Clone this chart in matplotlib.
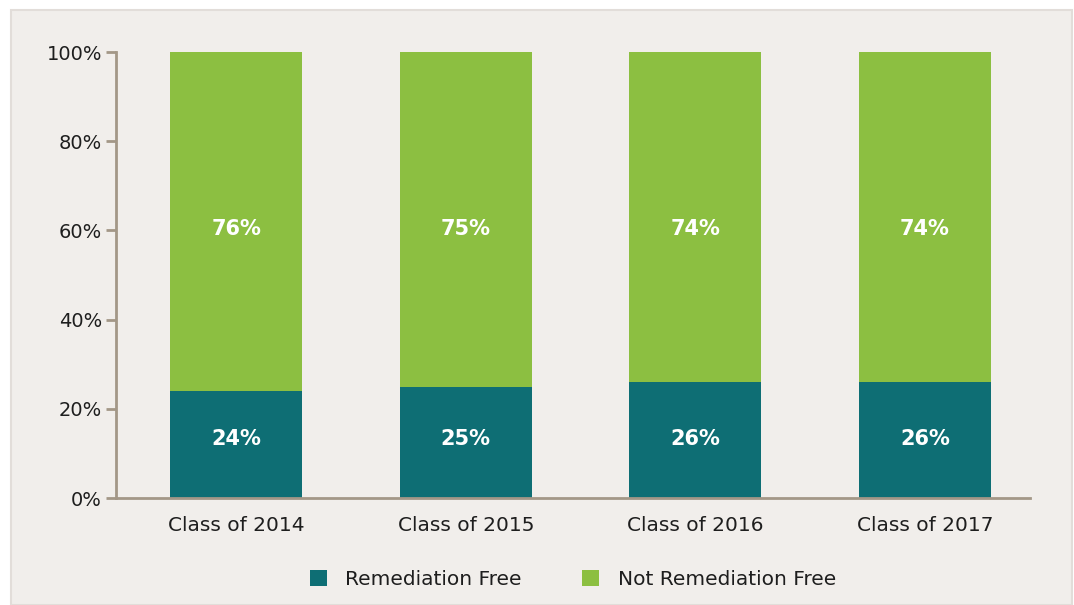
import matplotlib.pyplot as plt
import matplotlib.patches as patches
import numpy as np

classes = ["Class of 2014", "Class of 2015", "Class of 2016", "Class of 2017"]
remediation_free = [24, 25, 26, 26]
not_remediation_free = [76, 75, 74, 74]
y_ticks = [0, 20, 40, 60, 80, 100]

teal = "#0e6e74"
green = "#8cbf41"
axis_col = "#a39787"
panel_bg = "#f1eeeb"

plt.rcParams['font.family'] = ['DejaVu Sans']

fig = plt.figure(figsize=(10.74, 6.05), dpi=100)
fig.patch.set_facecolor("white")

# background panel (behind the axes)
panel = patches.Rectangle((11 / 1074, 0), 1061 / 1074, 595 / 605,
                          transform=fig.transFigure, fc=panel_bg,
                          ec="#e2ddd9", lw=1.5, zorder=-10)
fig.patches.append(panel)

ax = fig.add_axes([116 / 1074, 1 - 498 / 605, 914 / 1074, 446 / 605])
ax.set_facecolor("none")

x = np.arange(len(classes))
width = 0.575
rf = np.array(remediation_free)
nrf = np.array(not_remediation_free)
ax.bar(x, rf, width, color=teal, label="Remediation Free")
ax.bar(x, nrf, width, bottom=rf, color=green, label="Not Remediation Free")

# labels sit at a fixed height inside each segment, as in the original
for i in range(len(classes)):
    ax.text(x[i], 13.3, f"{rf[i]}%", ha="center", va="center",
            color="white", fontsize=15, fontweight="bold")
    ax.text(x[i], 60.3, f"{nrf[i]}%", ha="center", va="center",
            color="white", fontsize=15, fontweight="bold")

ax.set_xlim(-0.523, 3.457)
ax.set_ylim(0, 100)
ax.set_yticks(y_ticks)
ax.set_yticklabels([f"{t}%" for t in y_ticks])
ax.set_xticks(x)
ax.set_xticklabels(classes)

for s in ["top", "right"]:
    ax.spines[s].set_visible(False)
for s in ["left", "bottom"]:
    ax.spines[s].set_color(axis_col)
    ax.spines[s].set_linewidth(2)

ax.tick_params(axis="y", length=7, width=2, color=axis_col, labelsize=14,
               labelcolor="#1e1e1e", pad=3)
ax.tick_params(axis="x", length=0, labelsize=14.5, labelcolor="#1e1e1e", pad=13)

leg = ax.legend(loc="upper center", bbox_to_anchor=(0.5, -0.12), ncol=2,
                frameon=False, fontsize=14.5, handlelength=0.85, handleheight=0.85,
                columnspacing=3.0, handletextpad=0.9)
for t in leg.get_texts():
    t.set_color("#1e1e1e")

plt.savefig("out.png", dpi=100, facecolor=fig.get_facecolor())
plt.close()
